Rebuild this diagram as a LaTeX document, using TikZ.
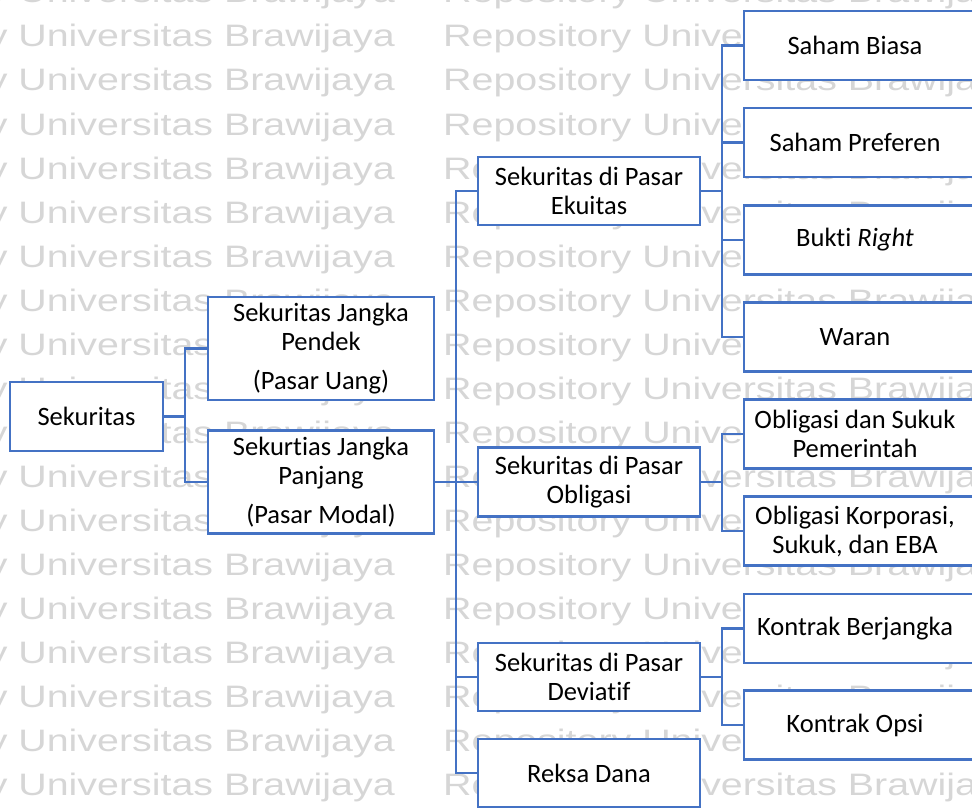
\documentclass[tikz,border=0pt]{standalone}
\usepackage{fontspec}
\setmainfont{Carlito}[Ligatures=NoCommon]
\newfontfamily\wmfont{Liberation Sans}
\definecolor{boxblue}{RGB}{68,114,196}
\definecolor{wmgray}{RGB}{214,214,214}
\tikzset{
  fs/.style={font=\fontsize{26.5pt}{29pt}\selectfont},
  box/.style={draw=boxblue, line width=2.2pt, fill=white, inner sep=0pt, align=center, fs},
  rbox/.style={box, minimum width=236pt, minimum height=69pt},
  lbl/.style={xshift=-7pt, align=center, inner sep=0pt, fs},
  conn/.style={draw=boxblue, line width=2.2pt},
  wm/.style={font=\wmfont\fontsize{31pt}{31pt}\selectfont, text=wmgray, inner sep=0pt}
}
\begin{document}
\begin{tikzpicture}[x=1pt, y=-1pt]
\useasboundingbox (0,0) rectangle (972,808);
\clip (0,0) rectangle (972,808);
% watermark
\foreach \k in {0,...,18}{
  \node[wm, anchor=base east] (wl\k) at (395,{3+44*\k}) {\scalebox{1.27}[1]{Repository Universitas Brawijaya}};
  \node[wm, anchor=base west] (wr\k) at (443,{3+44*\k}) {\scalebox{1.27}[1]{Repository Universitas Brawijaya}};
}
% level 0 and 1
\node[box, minimum width=153pt, minimum height=69pt] (sek) at (86.5,416.5) {Sekuritas};
\node[box, minimum width=226pt, minimum height=103pt] (pendek) at (321,348.5) {Sekuritas Jangka\\Pendek\\[10pt](Pasar Uang)};
\node[box, minimum width=226pt, minimum height=103pt] (panjang) at (321,482) {Sekurtias Jangka\\Panjang\\[10pt](Pasar Modal)};
% level 2
\node[box, minimum width=222pt, minimum height=68pt] (ekuitas) at (589,191) {Sekuritas di Pasar\\Ekuitas};
\node[box, minimum width=222pt, minimum height=69pt] (obligasi) at (589,482) {Sekuritas di Pasar\\Obligasi};
\node[box, minimum width=222pt, minimum height=68pt] (deviatif) at (589,677) {Sekuritas di Pasar\\Deviatif};
\node[box, minimum width=222pt, minimum height=68pt] (reksa) at (589,773) {Reksa Dana};
% level 3
\node[rbox, label={[lbl]center:Saham Biasa}] (biasa) at (862,45.5) {};
\node[rbox, label={[lbl]center:Saham Preferen}] (preferen) at (862,142.5) {};
\node[rbox, label={[lbl]center:Bukti \textit{Right}}] (right) at (862,240) {};
\node[rbox, label={[lbl]center:Waran}] (waran) at (862,337) {};
\node[rbox, label={[lbl]center:Obligasi dan Sukuk\\Pemerintah}] (pemerintah) at (862,434) {};
\node[rbox, label={[lbl]center:Obligasi Korporasi,\\Sukuk, dan EBA}] (korporasi) at (862,531) {};
\node[rbox, label={[lbl]center:Kontrak Berjangka}] (berjangka) at (862,628.5) {};
\node[rbox, label={[lbl]center:Kontrak Opsi}] (opsi) at (862,725) {};
% junctions
\coordinate (j1) at (185,416.5);
\coordinate (j2) at (456,482);
\coordinate (je) at (722,191);
\coordinate (jo) at (722,482);
\coordinate (jd) at (722,677);
% connectors
\draw[conn] (sek.east) -- (j1);
\draw[conn] (pendek.west) -| (j1);
\draw[conn] (panjang.west) -| (j1);
\draw[conn] (panjang.east) -- (obligasi.west);
\draw[conn] (ekuitas.west) -| (j2);
\draw[conn] (deviatif.west) -| (j2);
\draw[conn] (reksa.west) -| (j2);
\draw[conn] (ekuitas.east) -- (je);
\draw[conn] (biasa.west) -| (je);
\draw[conn] (preferen.west) -| (je);
\draw[conn] (right.west) -| (je);
\draw[conn] (waran.west) -| (je);
\draw[conn] (obligasi.east) -- (jo);
\draw[conn] (pemerintah.west) -| (jo);
\draw[conn] (korporasi.west) -| (jo);
\draw[conn] (deviatif.east) -- (jd);
\draw[conn] (berjangka.west) -| (jd);
\draw[conn] (opsi.west) -| (jd);
\end{tikzpicture}
\end{document}
